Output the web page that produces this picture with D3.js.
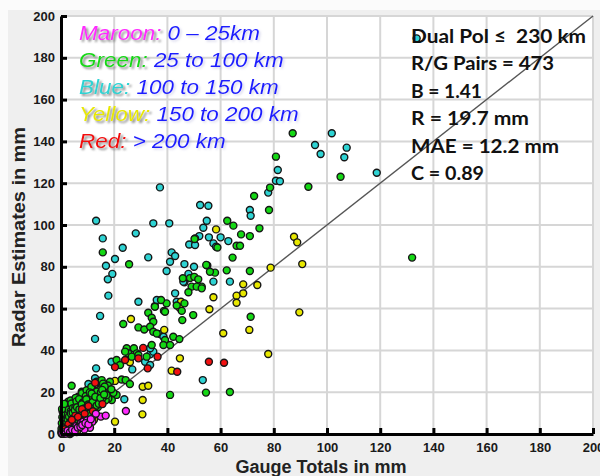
<!DOCTYPE html>
<html>
<head>
<meta charset="utf-8">
<script src="https://cdn.jsdelivr.net/npm/d3@7"></script>
<style>
  body { margin: 0; background: #fff; }
  svg { display: block; }
</style>
</head>
<body>
<div id="chart"></div>
<script>
// axis ticks (mm)
const ticks = [0, 20, 40, 60, 80, 100, 120, 140, 160, 180, 200];

// legend text
const legendNames = ["Maroon", "Green", "Blue", "Yellow", "Red"];
const legendRanges = ["0 \u2013 25km", "25 to 100 km", "100 to 150 km", "150 to 200 km", "> 200 km"];

// stats box
const statLines = ["Dual Pol \u2264  230 km", "R/G Pairs = 473", "B = 1.41", "R = 19.7 mm", "MAE = 12.2 mm", "C = 0.89"];

// [gauge total, radar estimate] in mm
const bluePts = [
  [133.7,189.3],[101.8,143.9],[95.5,138.3],[97.6,134.0],[107.4,137.0],[106.5,132.4],[118.7,125.0],
  [81.5,126.3],[80.8,121.2],[82.3,120.9],[77.9,115.5],[71.0,107.2],[71.3,104.4],
  [55.4,109.2],[54.8,102.0],[53.5,98.7],[55.6,94.1],[60.0,94.1],[62.9,92.3],[57.3,91.2],[58.3,89.6],
  [57.3,72.9],[63.5,72.9],[53.3,25.8],
  [37.2,118.0],[13.2,102.0],[34.7,100.8],[40.7,100.8],[52.3,109.6],[15.7,93.6],[28.1,96.0],[23.2,89.1],
  [20.3,83.7],[32.8,84.5],[41.6,86.9],[42.9,85.2],[41.0,82.4],[16.9,80.5],[19.3,76.6],[17.6,74.0],[39.7,78.0],
  [17.8,66.2],[29.1,63.3],[14.7,56.5],
  [52.0,94.7],[50.4,93.6],[48.2,90.7],[50.4,90.4],
  [50.0,80.0],[47.9,76.6],[46.4,72.6],[42.9,67.3],[43.5,63.3],[35.3,61.2],[36.0,64.1],[44.5,61.4],[46.4,81.3],[46.0,72.9],[55.0,80.6],
  [12.8,45.5],[19.0,34.6],[13.2,31.4],[33.5,38.1],[34.7,39.4],[31.6,34.6],[33.5,33.0],[26.8,30.9],[12.8,26.7],
  [10.3,23.9],[23.8,16.6],[12.5,12.8],[11.3,10.7],[37.2,47.8],[38.5,46.5],[33.5,41.0],
  [0.3,0.8],[0.8,2.6],[1.2,1.3],[1.7,3.9],[2.1,2.2],[2.6,5.1],[3.1,3.0],[3.6,6.4],[4.0,4.1],[4.6,7.6],
  [5.1,5.3],[5.7,9.8],[6.3,6.4],[6.8,10.9],[7.4,8.1],[8.1,12.6],[8.7,10.2],[9.4,14.1],[10.0,11.7],[10.8,16.2],
  [11.5,13.0],[12.3,17.3],[13.1,13.8],[14.0,19.6],[14.9,16.7],[15.9,22.0],[2.5,8.7],[4.8,12.3],[6.7,14.8],
  [9.0,17.1],[12.6,20.7],[17.2,19.1],
  [0.5,1.5],[1.0,2.0],[1.5,3.2],[1.9,5.0],[2.3,3.5],[2.9,6.8],[3.3,5.2],[3.9,8.6],[4.4,6.3],[5.0,9.1],
  [5.5,7.4],[6.0,11.1],[6.5,8.7],[7.1,12.4],[7.7,9.5],[8.3,13.5],[9.0,11.0],[9.9,14.8],[10.6,12.3],[11.3,15.6],
  [12.0,14.0],[13.0,18.3],[13.8,16.2],[14.6,18.0],
  [0.2,1.1],[0.6,2.9],[1.1,4.6],[1.6,6.9],[2.0,3.0],[2.5,4.8],[3.0,7.4],[3.5,4.4],[4.0,9.4],[4.5,5.2],
  [5.0,10.6],[5.5,6.1],[6.0,9.6],[6.5,12.0],[7.0,7.1],[7.5,10.7],[8.0,8.3],[8.5,14.7],[9.2,10.1],[9.8,13.2],
  [10.5,15.4],[11.0,11.1],[11.8,14.6],[12.6,12.5],[13.6,17.0],[14.3,20.7],[15.3,16.0],[16.1,19.6]
];

const yellowPts = [
  [87.6,94.4],[88.8,91.7],[90.7,81.3],[89.6,58.2],[78.8,79.6],[58.3,97.9],[68.5,71.6],[73.8,71.3],[57.3,65.4],
  [66.0,66.2],[68.5,67.3],[66.0,62.8],[55.8,59.7],[61.0,48.2],[70.8,49.8],[77.9,38.3],[44.7,36.2],[41.6,30.3],
  [38.8,49.8],[26.3,55.0],[25.9,34.3],[20.3,25.4],[30.7,22.6],[32.8,23.1],[30.7,16.3],[30.6,9.4],[20.3,5.9],
  [13.4,12.6],[3.4,0.0],[45.1,63.3],[44.6,60.4],
  [0.2,0.2],[0.6,0.5],[1.0,0.3],[1.5,0.8],[2.0,0.6],[2.6,1.1],[3.3,1.4],[4.0,1.2],[4.8,1.9],[5.6,2.1],
  [6.6,2.9],[7.8,3.6],[9.3,4.4],[10.7,5.3],[12.4,6.8],[3.5,0.4],[5.9,0.9],[1.8,2.4],[4.6,3.8],[7.1,5.7],
  [0.4,0.1],[0.9,0.9],[1.3,0.2],[1.9,1.5],[2.4,0.3],[2.9,2.2],[3.7,2.6],[4.3,0.8],[5.1,3.1],[6.1,1.7],
  [6.9,4.1],[8.2,5.0],[9.0,3.1],[10.2,6.4],[11.6,7.6]
];

const greenPts = [
  [87.1,143.9],[105.1,123.1],[93.0,118.3],[132.0,84.4],[80.8,132.7],[78.6,117.9],[72.6,113.9],[78.2,107.2],
  [62.5,102.0],[64.8,99.7],[74.6,98.4],[67.7,95.5],[71.0,94.7],[66.0,90.1],[67.3,90.1],[64.5,84.4],[50.2,93.3],[58.8,89.2],
  [54.6,80.9],[57.9,77.2],[56.0,77.6],[62.3,78.3],[71.0,78.0],[52.9,70.5],[71.3,56.1],[54.5,19.8],[63.5,20.1],[41.0,18.7],
  [15.7,86.9],[25.6,81.2],
  [45.8,74.5],[48.5,74.6],[50.1,75.2],[51.6,74.0],[49.1,70.5],[51.0,70.5],[52.9,69.7],[47.9,67.8],
  [39.7,62.5],[37.6,64.1],[35.3,60.9],[38.7,58.9],[43.5,61.5],[46.4,62.5],[45.4,58.9],[45.6,54.5],[49.7,56.9],[32.8,58.0],[39.1,58.5],
  [34.1,55.6],[34.7,53.7],[23.4,52.6],[29.1,51.0],[31.3,50.0],[33.5,51.3],[34.7,48.9],[36.0,48.1],
  [39.1,45.0],[42.2,46.5],[44.5,45.4],[38.5,42.6],[41.0,42.6],[24.7,41.0],[27.4,41.0],[25.3,38.6],[28.5,38.6],
  [18.4,25.0],[22.8,26.1],[24.3,25.8],[25.9,23.9],[4.0,23.1],[20.9,18.7],[1.5,13.5],[2.1,11.5],[6.5,17.8],
  [12.8,20.2],[14.7,19.5],[17.8,19.5],[15.3,22.6],[16.5,21.8],
  [24.1,39.4],[20.9,35.4],[22.2,33.0],[26.6,37.0],[13.4,25.0],[15.3,25.8],[19.7,19.7],[19.1,16.3],[17.8,17.0],
  [2.7,15.5],[3.4,11.5],[7.1,17.1],[9.0,15.5],[7.8,20.2],[6.5,14.4],[29.1,37.8],[32.2,37.0],[34.1,42.6],
  [0.4,1.8],[0.7,4.2],[0.9,6.8],[1.1,9.4],[1.3,2.9],[1.6,5.6],[1.9,8.1],[2.2,10.6],[2.4,3.7],[2.7,6.3],
  [3.0,12.4],[3.2,4.9],[3.5,9.1],[3.8,7.2],[4.1,13.6],[4.3,5.4],[4.7,10.8],[5.0,8.3],[5.3,14.9],[5.6,6.7],
  [5.9,11.7],[6.2,9.2],[6.6,13.1],[6.9,7.8],[7.3,15.8],[7.7,11.2],[8.0,9.6],[8.4,13.9],[8.8,17.4],[9.2,12.1],
  [9.7,15.3],[10.1,10.8],[10.5,18.6],[11.0,14.2],[11.6,16.9],[12.1,12.3],[12.7,19.1],[13.3,15.4],[14.0,17.8],
  [14.6,21.3],[15.2,18.4],[16.0,20.6],[16.8,16.1],[0.6,10.8],[1.4,12.6],[2.0,14.2],[0.5,8.0],[3.6,16.0],
  [5.5,17.3],[7.9,19.6],[9.6,20.9],[11.4,22.6],[17.6,23.2],[18.9,21.4],[15.8,24.1],[2.9,1.6],[4.4,2.9],
  [6.4,4.6],[8.6,6.9],[10.9,8.6],
  [0.2,2.5],[0.3,5.1],[0.8,3.3],[1.0,7.6],[1.2,5.0],[1.5,9.9],[1.7,1.6],[2.0,4.3],[2.3,7.7],[2.6,9.4],
  [2.8,11.6],[3.1,6.0],[3.4,2.7],[3.7,11.0],[3.9,14.6],[4.2,8.1],[4.5,12.4],[4.9,5.8],[5.2,9.6],[5.4,12.9],
  [5.8,15.6],[6.1,7.3],[6.5,10.6],[6.8,16.7],[7.2,9.9],[7.5,13.6],[7.9,7.2],[8.2,15.1],[8.5,11.0],[8.9,13.0],
  [9.3,18.1],[9.6,9.4],[10.0,16.4],[10.4,12.5],[10.8,19.9],[11.2,11.6],[11.7,18.0],[12.2,14.7],[12.8,16.6],
  [13.5,20.3],[13.9,12.9],[14.4,15.9],[15.0,20.0],[15.7,17.3],[16.4,22.7],[17.1,18.6],
  [0.3,0.6],[0.6,1.4],[0.9,2.3],[1.1,3.8],[1.4,4.5],[1.6,2.0],[1.8,6.4],[2.1,5.5],[2.3,2.6],[2.5,6.9],
  [2.7,4.1],[3.0,8.3],[3.2,3.6],[3.5,5.7],[3.7,9.8],[4.0,6.6],[4.2,3.3],[4.4,10.1],[4.7,7.0],[5.0,4.6],
  [5.2,11.3],[5.5,8.1],[5.7,5.0],[6.0,12.8],[6.3,7.7],[6.6,5.6],[6.9,11.8],[7.2,8.7],[7.5,6.3],[7.8,14.2],
  [8.1,10.4],[8.4,7.6],[8.7,12.2],[9.1,9.0],[9.5,16.6],[9.8,11.3],[10.2,14.1],[10.6,9.8],[11.1,12.9],[11.5,19.4],
  [11.9,15.3],[12.4,11.2],[12.9,17.8],[13.4,13.6],[14.2,14.5],[14.8,17.2],[15.5,21.1],[16.2,18.9],[0.4,12.0],[1.2,14.4]
];

const redPts = [
  [55.6,34.6],[61.3,34.1],[43.7,29.8],[30.9,41.2],[24.1,35.4],[29.1,36.2],[36.3,37.0],[32.6,31.4],[20.3,32.0],[12.8,24.5],
  [2.8,4.6],[5.4,8.8],[7.9,11.9],[10.3,13.4],[15.6,14.3],[1.4,2.3],[4.1,6.8],[6.4,8.2],[8.9,9.7],[12.0,10.9]
];

const maroonPts = [
  [24.4,11.0],[15.0,8.3],[16.8,8.8],[11.8,5.9],[9.0,3.5],[10.9,3.0],[8.8,2.2],
  [0.7,0.1],[1.3,0.4],[2.2,0.9],[3.0,1.9],[3.9,2.6],[4.9,2.8],[5.8,3.9],[6.9,4.2],[7.6,5.3],[8.4,5.9],[9.8,6.6],[13.1,9.7],
  [0.5,0.3],[1.1,0.8],[1.8,0.2],[2.5,1.7],[3.4,0.9],[4.2,2.0],[5.3,1.6],[6.3,3.1],[7.3,3.5],[8.0,4.3],[9.2,5.2],
  [10.3,4.6],[11.2,7.1]
];

// layout
const W = 600, H = 476;
const plot = {left: 61, right: 593, top: 16, bottom: 434};

const svg = d3.select("#chart").append("svg")
  .attr("width", W)
  .attr("height", H);

const defs = svg.append("defs");
defs.append("filter").attr("id", "shadowStrong")
  .attr("x", "-10%").attr("y", "-30%").attr("width", "130%").attr("height", "170%")
  .append("feDropShadow")
  .attr("dx", 2).attr("dy", 2).attr("stdDeviation", 0.8)
  .attr("flood-color", "#7a7a7a").attr("flood-opacity", 0.9);
defs.append("filter").attr("id", "shadowSoft")
  .attr("x", "-10%").attr("y", "-30%").attr("width", "130%").attr("height", "170%")
  .append("feDropShadow")
  .attr("dx", 1.5).attr("dy", 1.5).attr("stdDeviation", 0.8)
  .attr("flood-color", "#a0a0d0").attr("flood-opacity", 0.45);

// figure background
svg.append("rect").attr("width", W).attr("height", H).attr("fill", "#fbfbfb");
svg.append("rect").attr("x", 8).attr("y", 10).attr("width", W - 8).attr("height", H - 10).attr("fill", "#efefef");
svg.append("rect")
  .attr("x", plot.left).attr("y", plot.top)
  .attr("width", plot.right - plot.left).attr("height", plot.bottom - plot.top)
  .attr("fill", "#fff");

const x = d3.scaleLinear().domain([0, 200]).range([plot.left, plot.right]);
const y = d3.scaleLinear().domain([0, 200]).range([plot.bottom, plot.top]);

// grid
const grid = svg.append("g").attr("class", "grid")
  .attr("stroke", "#d6d6d6").attr("stroke-width", 2);
grid.selectAll(".gx").data(ticks.slice(1)).enter().append("line")
  .attr("x1", d => x(d)).attr("x2", d => x(d))
  .attr("y1", y(0)).attr("y2", y(200));
grid.selectAll(".gy").data(ticks.slice(1)).enter().append("line")
  .attr("y1", d => y(d)).attr("y2", d => y(d))
  .attr("x1", x(0)).attr("x2", x(200));

// 1:1 line
svg.append("line")
  .attr("x1", x(0)).attr("y1", y(0))
  .attr("x2", x(200)).attr("y2", y(200))
  .attr("stroke", "#555").attr("stroke-width", 1.4);

// points, drawn in the stacking order seen in the picture
const color = d3.scaleOrdinal()
  .domain(legendNames)
  .range(["#ff2bff", "#14d814", "#2ed3d3", "#e8e800", "#f21010"]);

const layers = [
  {name: "Blue", pts: bluePts},
  {name: "Yellow", pts: yellowPts},
  {name: "Green", pts: greenPts},
  {name: "Red", pts: redPts},
  {name: "Maroon", pts: maroonPts}
];

layers.forEach(layer => {
  svg.append("g").selectAll("circle")
    .data(layer.pts)
    .enter()
    .append("circle")
    .attr("cx", d => x(d[0]))
    .attr("cy", d => y(d[1]))
    .attr("r", 3.5)
    .attr("fill", color(layer.name))
    .attr("stroke", "#161616")
    .attr("stroke-width", 1.4);
});

// axes
const styleAxis = g => {
  g.attr("font-family", "Arial, 'Liberation Sans', sans-serif")
   .attr("font-size", 13)
   .attr("font-weight", "bold");
  g.select(".domain").attr("stroke", "#000").attr("stroke-width", 3);
  g.selectAll(".tick line").attr("stroke", "#000").attr("stroke-width", 3);
  g.selectAll(".tick text").attr("fill", "#1a1a1a");
};

svg.append("g")
  .attr("transform", `translate(${x(0)},0)`)
  .call(d3.axisLeft(y).tickValues(ticks).tickSizeInner(-6).tickSizeOuter(0).tickPadding(6))
  .call(styleAxis);

svg.append("g")
  .attr("transform", `translate(0,${y(0)})`)
  .call(d3.axisBottom(x).tickValues(ticks).tickSizeInner(-6).tickSizeOuter(0).tickPadding(9))
  .call(styleAxis);

// axis titles
svg.append("text")
  .attr("transform", `translate(25,237) rotate(-90)`)
  .attr("text-anchor", "middle")
  .attr("textLength", 220)
  .attr("lengthAdjust", "spacingAndGlyphs")
  .style("font-family", "Arial, 'Liberation Sans', sans-serif")
  .style("font-weight", "bold")
  .style("font-size", "18px")
  .attr("fill", "#222")
  .text("Radar Estimates in mm");

svg.append("text")
  .attr("x", 321).attr("y", 473)
  .attr("text-anchor", "middle")
  .attr("textLength", 171)
  .attr("lengthAdjust", "spacingAndGlyphs")
  .style("font-family", "Arial, 'Liberation Sans', sans-serif")
  .style("font-weight", "bold")
  .style("font-size", "18px")
  .attr("fill", "#222")
  .text("Gauge Totals in mm");

// legend: coloured name with grey shadow, then the range in blue
const legend = svg.append("g").attr("class", "legend")
  .attr("transform", "translate(79,0) scale(1.07,1)")
  .style("font-family", "Arial, 'Liberation Sans', sans-serif")
  .style("font-style", "italic")
  .style("font-size", "21px");

legendNames.forEach((name, i) => {
  const rowY = 40 + i * 27;
  const nameText = legend.append("text")
    .attr("x", 0).attr("y", rowY)
    .attr("fill", color(name))
    .attr("filter", "url(#shadowStrong)")
    .text(name + ":");
  const w = nameText.node().getComputedTextLength();
  legend.append("text")
    .attr("x", w).attr("y", rowY)
    .attr("fill", "#1c1cff")
    .attr("filter", "url(#shadowSoft)")
    .style("white-space", "pre")
    .text(" " + legendRanges[i]);
});

// stats
const statWidths = [175, 143, 71, 118, 148, 73];
svg.append("g").selectAll("text")
  .data(statLines)
  .enter()
  .append("text")
  .attr("x", 411)
  .attr("y", (d, i) => 43 + i * 27.4)
  .attr("textLength", (d, i) => statWidths[i])
  .attr("lengthAdjust", "spacingAndGlyphs")
  .style("white-space", "pre")
  .style("font-family", "Lato, 'Open Sans', sans-serif")
  .style("font-weight", "bold")
  .style("font-size", "19px")
  .attr("fill", "#111")
  .text(d => d);
</script>
</body>
</html>
